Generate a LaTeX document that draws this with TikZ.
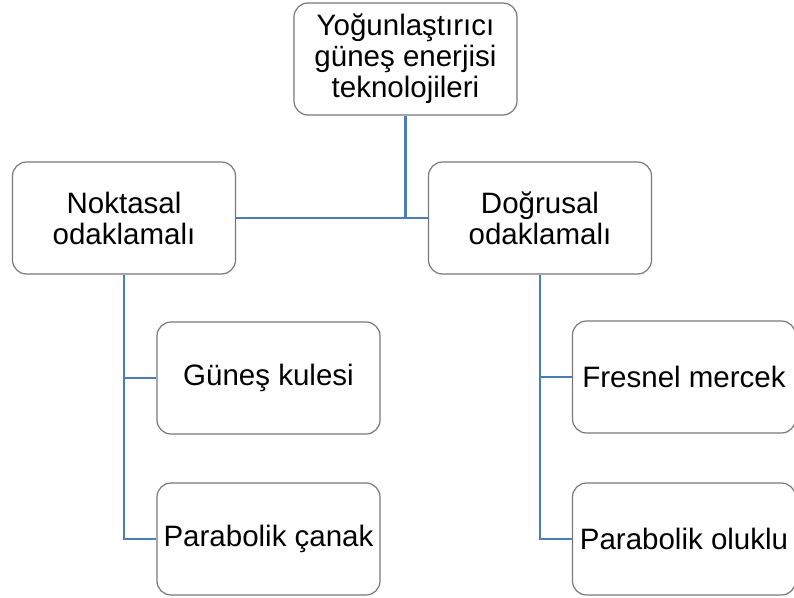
\documentclass[tikz,border=0pt]{standalone}
\usepackage{fontspec}
\setmainfont{Liberation Sans}
\definecolor{LinkColor}{RGB}{74,126,187}
\definecolor{BoxLineColor}{RGB}{120,120,120}
\usetikzlibrary{positioning, arrows.meta}
\tikzstyle{techbox} = [draw=BoxLineColor, line width=1.2pt, rounded corners=14pt, fill=white, minimum width=223pt, minimum height=112pt, inner sep=0pt, align=center, font=\fontsize{29.5}{31}\selectfont]
\tikzstyle{link} = [LinkColor, line width=2.4pt]

\begin{document}
\begin{tikzpicture}[x=1pt, y=-1pt]
            \useasboundingbox (0,0) rectangle (794,597);
            % Root
            \node[techbox] (root) at (405.5,59) {Yoğunlaştırıcı\\güneş enerjisi\\teknolojileri};
            
            % Level 1
            \node[techbox] (noktasal) at (124,218) {Noktasal\\odaklamalı};
            \node[techbox] (dogrusal) at (540,218) {Doğrusal\\odaklamalı};
            
            % Level 2
            \node[techbox] (kule) at (268.5,378) {Güneş kulesi};
            \node[techbox] (canak) at (268.5,539) {Parabolik çanak};
            \node[techbox] (fresnel) at (684,377) {Fresnel mercek};
            \node[techbox] (oluklu) at (684,539) {Parabolik oluklu};
            
            % Connections
            \draw[link] (root.south) -- (root.south |- noktasal.east);
            \draw[link] (noktasal.east) -- (dogrusal.west);
            \draw[link] (noktasal.south) |- (kule.west);
            \draw[link] (noktasal.south) |- (canak.west);
            \draw[link] (dogrusal.south) |- (fresnel.west);
            \draw[link] (dogrusal.south) |- (oluklu.west);
        \end{tikzpicture}
\end{document}
